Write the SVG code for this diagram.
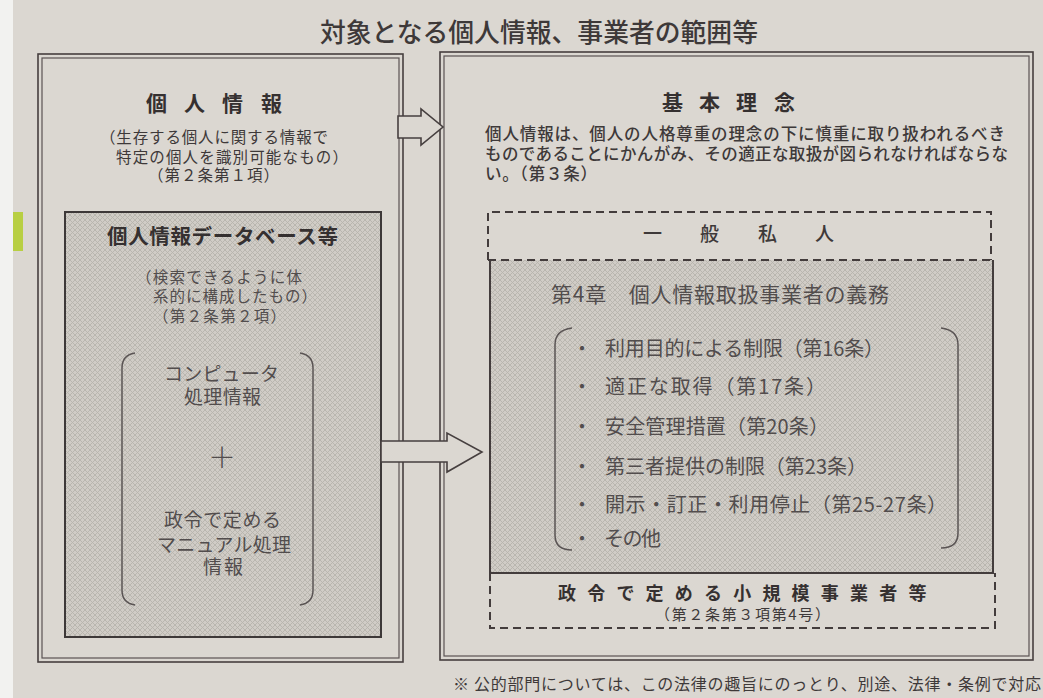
<svg xmlns="http://www.w3.org/2000/svg" width="1043" height="698" viewBox="0 0 1043 698">
<defs>
<pattern id="hatch" width="5" height="5" patternUnits="userSpaceOnUse">
<rect width="5" height="5" fill="#d0ccc6"/>
<path d="M0,0 L5,5 M5,0 L0,5" stroke="#b7b3ad" stroke-width="0.9"/>
</pattern>
<style>
.t{font-family:'Noto Sans CJK JP','Noto Sans CJK SC',sans-serif;dominant-baseline:central;}
.h{font-weight:bold;fill:#353030;}
.s{fill:#3e3939;}
.g{fill:#524d4d;}
.frame{fill:none;stroke:#463f3f;stroke-width:1.6;}
.frame2{fill:none;stroke:#5a5353;stroke-width:1.2;}
.dash{fill:none;stroke:#433c3c;stroke-width:2;stroke-dasharray:8 5;}
.solid{fill:none;stroke:#433c3c;stroke-width:2;}
.brk{fill:none;stroke:#5a5454;stroke-width:1.5;}
.arrow{fill:#dbd7d1;stroke:#463f3f;stroke-width:1.6;stroke-linejoin:miter;}
</style>
</defs>
<rect width="1043" height="698" fill="#dbd7d1"/>
<rect x="0" y="0" width="13" height="698" fill="#f2f2f0"/>
<rect x="13" y="212" width="10" height="39" fill="#b8cf42"/>

<text class="t s" x="320" y="30" font-size="26" font-weight="500" textLength="438" lengthAdjust="spacingAndGlyphs">対象となる個人情報、事業者の範囲等</text>

<g id="kojin-joho">
<rect class="frame" x="38" y="54" width="365" height="608"/>
<rect class="frame2" x="42" y="58" width="357" height="600"/>
<text class="t h" font-size="21" y="102" x="146 184 222 261">個人情報</text>
<text class="t s" font-size="15.5" x="100" y="136" textLength="228">（生存する個人に関する情報で</text>
<text class="t s" font-size="15.5" x="116" y="156" textLength="232">特定の個人を識別可能なもの）</text>
<text class="t s" font-size="15.5" x="148" y="174" textLength="131">（第２条第１項）</text>
</g>

<g id="database">
<rect x="65" y="212" width="316" height="425" fill="url(#hatch)" stroke="#3d3838" stroke-width="2"/>
<text class="t h" font-size="20.5" x="107" y="235" textLength="231">個人情報データベース等</text>
<text class="t g" font-size="15.5" x="136" y="276" textLength="166">（検索できるように体</text>
<text class="t g" font-size="15.5" x="153" y="295" textLength="164">系的に構成したもの）</text>
<text class="t g" font-size="15.5" x="153" y="315" textLength="133">（第２条第２項）</text>
<path class="brk" d="M135,353 Q122,355 122,368 L122,590 Q122,603 135,605"/>
<path class="brk" d="M300,353 Q313,355 313,368 L313,590 Q313,603 300,605"/>
<text class="t g" font-size="19" x="164" y="372" textLength="115">コンピュータ</text>
<text class="t g" font-size="19" x="184" y="395" textLength="77">処理情報</text>
<text class="t g" font-size="28" x="222" y="456" text-anchor="middle" font-weight="300">＋</text>
<text class="t g" font-size="19" x="164" y="518" textLength="117">政令で定める</text>
<text class="t g" font-size="19" x="157" y="543" textLength="134">マニュアル処理</text>
<text class="t g" font-size="19" x="203" y="565" textLength="40">情報</text>
</g>

<g id="kihon-rinen">
<rect class="frame" x="440" y="52" width="593" height="608"/>
<rect class="frame2" x="444" y="56" width="585" height="600"/>
<text class="t h" font-size="21" y="101" x="662 699 736 774">基本理念</text>
<text class="t s" font-size="16.5" x="485" y="133" textLength="520" font-weight="500">個人情報は、個人の人格尊重の理念の下に慎重に取り扱われるべき</text>
<text class="t s" font-size="16.5" x="485" y="153" textLength="523" font-weight="500">ものであることにかんがみ、その適正な取扱が図られなければならな</text>
<text class="t s" font-size="16.5" x="485" y="173" textLength="112" font-weight="500">い。（第３条）</text>
</g>

<g id="ippan-shijin">
<path class="dash" d="M488,260 V212 H991 V260"/>
<text class="t s" font-size="19" y="232" x="643 700 758 815" font-weight="500">一般私人</text>
</g>

<g id="gimu">
<rect x="490" y="260" width="503" height="313" fill="url(#hatch)"/>
<path class="dash" d="M488,260 H993"/>
<path class="solid" d="M490,260 V573 H993 V260"/>
<text class="t g" font-size="21" x="551" y="293" textLength="338">第4章　個人情報取扱事業者の義務</text>
<path class="brk" d="M572,328 Q555,330 555,345 L555,535 Q555,550 572,550"/>
<path class="brk" d="M941,328 Q958,330 958,345 L958,533 Q958,548 941,548"/>
<g class="t g" font-size="20">
<text x="572" y="347">・</text><text x="605" y="347" textLength="279">利用目的による制限（第16条）</text>
<text x="572" y="385">・</text><text x="605" y="385" textLength="221">適正な取得（第17条）</text>
<text x="572" y="425">・</text><text x="605" y="425" textLength="224">安全管理措置（第20条）</text>
<text x="572" y="465">・</text><text x="605" y="465" textLength="262">第三者提供の制限（第23条）</text>
<text x="572" y="503">・</text><text x="605" y="503" textLength="342">開示・訂正・利用停止（第25-27条）</text>
<text x="572" y="537">・</text><text x="604" y="537" textLength="57">その他</text>
</g>
</g>

<g id="shokibo">
<path class="dash" d="M490,573 V628 H995 V573"/>
<text class="t h" font-size="18" y="592" x="558 587.2 616.4 645.6 674.8 704 733.2 762.4 791.6 820.8 850 879.2 908.4">政令で定める小規模事業者等</text>
<text class="t s" font-size="15" x="655" y="613" textLength="175">（第２条第３項第4号）</text>
</g>

<g id="connectors">
<polygon class="arrow" points="398,116 421,116 421,109 443,127 421,145 421,138 398,138"/>
<polygon class="arrow" points="381,441 447,441 447,433 482,452 447,472 447,462 381,462"/>
</g>

<text class="t s" font-size="16" x="453" y="683" textLength="588">※ 公的部門については、この法律の趣旨にのっとり、別途、法律・条例で対応</text>
</svg>
